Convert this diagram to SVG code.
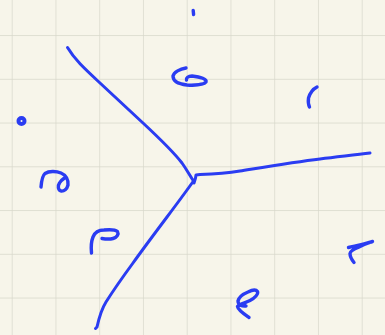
<svg xmlns="http://www.w3.org/2000/svg" width="385" height="335" viewBox="0 0 385 335">
<defs>
<pattern id="grid" x="11.7" y="-8.7" width="43.75" height="43.75" patternUnits="userSpaceOnUse">
<path d="M0 0 V43.75 M0 0 H43.75" fill="none" stroke="#d8d7ca" stroke-width="1.4"/>
</pattern>
</defs>
<style>
.ink{fill:none;stroke:#2a3cf2;stroke-linecap:round;stroke-linejoin:round}
.line{stroke-width:3}
.sc{stroke-width:3.4}
</style>
<rect width="385" height="335" fill="#f7f5ea"/>
<rect width="385" height="335" fill="url(#grid)"/>
<g id="lines" class="ink line">
<path d="M67.5 47.5 C75 60 85 69 100 83 C115 97 130 111 143 123 C158 137 172 150 182 163 C187 170 190 176 193.5 181"/>
<path d="M194 183 L195.5 178 L196 175 L200 174.5 C215 174 228 173 240 171 C265 167 295 162 320 159 C340 156.5 355 155 370 153"/>
<path d="M193.5 181 C185 193 176 205 167 217 C155 233 143 249 133 263 C122 278 113 291 106 302 C101 310 99 318 97 327 L95.5 328.5"/>
</g>
<g id="marks" class="ink sc">
<path d="M193.2 10.5 L193.6 14.5"/>
<path d="M186 68 C180 69 174 72 173 76 C173 81 178 84 187 85 C195 85.5 204 84.5 206 82 C207 79 201 77 192 76 C188 76 186 78 186.5 80"/>
<path d="M317 87 C313 89 310 93 308.5 98 C308 102 308.5 105 309.5 107"/>
<circle cx="21.5" cy="121" r="3" stroke-width="4"/>
<path d="M41 187 C41.5 181 42 176 45 173.5 C49 171 56 171 61 173 C66 175 68.5 180 68 185 C67 189 64 191.5 61 191 C58 190 57.5 186 59.5 183 C61 180.5 63 179 64.5 178"/>
<path d="M91.5 253 C91 248 91 242 93 237 C95 232 99 230 104 230 C109 229.5 115 229.5 117.5 231.5 C119 234 117 237.5 113 238.5 C109 239.5 105 239 102 238.5"/>
<path d="M348.5 247.5 C352 246.5 356 246 360 245 C365 244 369 242.5 372.5 241.5 M372.5 241.5 C368 243 363 245 358 247.5 C354 249 350.5 251 350 253.5 C350 256.5 352 260 354 262.5"/>
<path d="M246 306 C242 306.5 238 305 238 301 C239 297 243 294 248 292 C252 290 256 289.5 257.5 291.5 C258.5 294 255 298 250 300.5 C245 303 240 304 237.5 306.5 C238 310 244 314 249 317.5"/>
</g>
</svg>
